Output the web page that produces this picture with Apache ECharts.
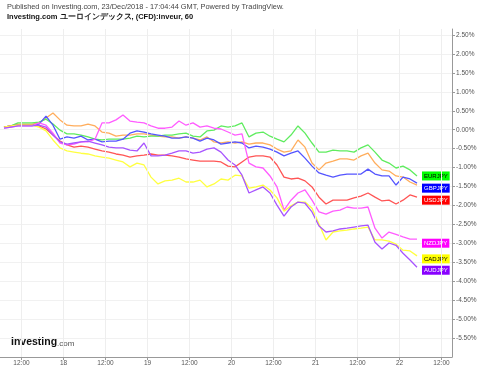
<!DOCTYPE html>
<html>
<head>
<meta charset="utf-8">
<script src="https://cdn.jsdelivr.net/npm/echarts@6/dist/echarts.min.js"></script>
<style>
html,body{margin:0;padding:0;background:#fff;}
#chart{width:480px;height:369px;}
</style>
</head>
<body>
<div id="chart"></div>
<script>
// Time: hours relative to 18 Dec 00:00, first sample and sampling step
const startHour = -17;
const stepHours = 2;

// X axis ticks (hours) and their labels
const xTickHours = [-12, 0, 12, 24, 36, 48, 60, 72, 84, 96, 108];
const xTickLabels = ['12:00', '18', '12:00', '19', '12:00', '20', '12:00', '21', '12:00', '22', '12:00'];

// Y axis tick values (%)
const yTickValues = [-5.5, -5, -4.5, -4, -3.5, -3, -2.5, -2, -1.5, -1, -0.5, 0, 0.5, 1, 1.5, 2, 2.5];

// Series values (% change)
const eurjpy = [0.07, 0.10, 0.18, 0.18, 0.18, 0.20, 0.28, 0.15, -0.01, -0.11,
  -0.11, -0.14, -0.19, -0.25, -0.27, -0.25, -0.25, -0.25, -0.22, -0.17,
  -0.19, -0.17, -0.17, -0.14, -0.14, -0.11, -0.09, -0.17, -0.19, -0.03,
  -0.01, 0.10, 0.07, 0.10, 0.18, -0.19, -0.09, -0.06, -0.17, -0.25,
  -0.32, -0.14, 0.10, -0.09, -0.35, -0.59, -0.59, -0.54, -0.56, -0.56,
  -0.59, -0.48, -0.40, -0.59, -0.80, -0.88, -1.01, -0.96, -1.06, -1.22];

const gbpjpy = [0.07, 0.10, 0.12, 0.12, 0.12, 0.15, 0.36, 0.12, -0.25, -0.19,
  -0.22, -0.17, -0.27, -0.25, -0.32, -0.30, -0.30, -0.25, -0.09, -0.03,
  -0.06, -0.11, -0.14, -0.17, -0.22, -0.22, -0.19, -0.22, -0.30, -0.22,
  -0.27, -0.38, -0.35, -0.32, -0.35, -0.48, -0.43, -0.46, -0.51, -0.59,
  -0.69, -0.62, -0.56, -0.75, -0.96, -1.14, -1.20, -1.25, -1.20, -1.17,
  -1.17, -1.17, -1.04, -1.17, -1.22, -1.22, -1.46, -1.25, -1.30, -1.41];

const chfjpy = [0.07, 0.10, 0.15, 0.15, 0.15, 0.18, 0.31, 0.44, 0.26, 0.12,
  0.10, 0.10, 0.15, 0.10, -0.06, -0.09, -0.17, -0.14, -0.14, -0.11,
  -0.11, -0.14, -0.17, -0.19, -0.19, -0.22, -0.19, -0.22, -0.27, -0.19,
  -0.32, -0.35, -0.32, -0.35, -0.32, -0.38, -0.35, -0.35, -0.40, -0.51,
  -0.59, -0.56, -0.27, -0.46, -0.88, -1.06, -0.88, -0.83, -0.77, -0.77,
  -0.80, -0.69, -0.62, -0.88, -1.06, -1.09, -1.22, -1.25, -1.38, -1.46];

const usdjpy = [0.07, 0.10, 0.12, 0.12, 0.12, 0.10, 0.02, -0.14, -0.30, -0.40,
  -0.46, -0.43, -0.46, -0.51, -0.56, -0.59, -0.64, -0.67, -0.72, -0.69,
  -0.67, -0.64, -0.67, -0.67, -0.69, -0.72, -0.77, -0.80, -0.83, -0.83,
  -0.83, -0.85, -0.96, -0.98, -0.85, -0.72, -0.69, -0.69, -0.72, -0.93,
  -1.25, -1.30, -1.28, -1.35, -1.51, -1.78, -1.96, -1.86, -1.86, -1.86,
  -1.80, -1.75, -1.67, -1.78, -1.88, -1.86, -1.96, -1.86, -1.72, -1.78];

const nzdjpy = [0.04, 0.07, 0.10, 0.10, 0.10, 0.18, 0.12, -0.09, -0.35, -0.40,
  -0.38, -0.32, -0.32, -0.25, 0.18, 0.18, 0.26, 0.39, 0.23, 0.20,
  0.18, 0.10, 0.04, 0.04, 0.07, 0.23, 0.12, 0.18, 0.07, 0.10,
  0.04, 0.02, -0.06, -0.14, -0.11, -0.88, -0.98, -1.01, -1.22, -1.51,
  -2.12, -1.86, -1.67, -1.59, -1.86, -2.17, -2.23, -2.15, -2.12, -2.04,
  -2.07, -2.07, -2.04, -2.60, -2.86, -2.70, -2.76, -2.83, -2.89, -2.89];

const cadjpy = [0.07, 0.10, 0.12, 0.12, 0.12, 0.07, -0.03, -0.27, -0.48, -0.56,
  -0.59, -0.62, -0.64, -0.69, -0.72, -0.75, -0.80, -0.85, -0.98, -0.88,
  -0.93, -1.25, -1.43, -1.35, -1.33, -1.28, -1.38, -1.38, -1.33, -1.51,
  -1.43, -1.30, -1.33, -1.20, -1.22, -1.54, -1.51, -1.46, -1.59, -1.80,
  -2.15, -2.01, -1.91, -1.91, -2.07, -2.49, -2.91, -2.70, -2.67, -2.65,
  -2.62, -2.60, -2.57, -2.91, -2.91, -2.94, -3.02, -3.18, -3.20, -3.33];

const audjpy = [0.04, 0.07, 0.10, 0.10, 0.10, 0.12, 0.07, -0.14, -0.32, -0.38,
  -0.35, -0.32, -0.30, -0.35, -0.40, -0.46, -0.48, -0.48, -0.54, -0.56,
  -0.35, -0.69, -0.69, -0.67, -0.62, -0.56, -0.56, -0.62, -0.59, -0.51,
  -0.48, -0.59, -0.80, -0.93, -1.20, -1.67, -1.59, -1.51, -1.67, -1.99,
  -2.28, -2.04, -1.91, -1.94, -2.17, -2.54, -2.70, -2.67, -2.62, -2.60,
  -2.57, -2.54, -2.52, -2.97, -3.15, -2.99, -3.05, -3.26, -3.44, -3.63];

const seriesDefs = [
  {name: 'CHFJPY', data: chfjpy, line: '#ffad5c', bg: null, fg: null, dy: 0},
  {name: 'EURJPY', data: eurjpy, line: '#5fec5f', bg: '#00ff00', fg: '#000', dy: 0},
  {name: 'GBPJPY', data: gbpjpy, line: '#5555ff', bg: '#0000ff', fg: '#fff', dy: 5},
  {name: 'USDJPY', data: usdjpy, line: '#ff5555', bg: '#ff0000', fg: '#fff', dy: 3},
  {name: 'NZDJPY', data: nzdjpy, line: '#ff5cff', bg: '#ff00ff', fg: '#fff', dy: 4},
  {name: 'CADJPY', data: cadjpy, line: '#ffff40', bg: '#ffff00', fg: '#000', dy: 3},
  {name: 'AUDJPY', data: audjpy, line: '#a855ff', bg: '#8800ff', fg: '#fff', dy: 3}
];

const FONT = '"Liberation Sans", Arial, sans-serif';
const chart = echarts.init(document.getElementById('chart'), null, {renderer: 'canvas'});

const series = [{
  type: 'line', data: [], silent: true,
  markLine: {
    silent: true, symbol: 'none', animation: false,
    label: {show: false},
    lineStyle: {color: '#eeeeee', type: 'solid', width: 1},
    data: xTickHours.map(h => ({xAxis: h}))
  }
}];

seriesDefs.forEach(s => {
  series.push({
    name: s.name,
    type: 'line',
    showSymbol: false,
    symbol: 'none',
    animation: false,
    lineStyle: {color: s.line, width: 1.3},
    itemStyle: {color: s.line},
    data: s.data.map((v, i) => [startHour + i * stepHours, v]),
    endLabel: s.bg ? {
      show: true,
      formatter: s.name,
      backgroundColor: s.bg,
      color: s.fg,
      fontFamily: FONT,
      fontSize: 6,
      padding: [2, 2, 1, 2],
      distance: 5,
      offset: [0, s.dy]
    } : {show: false}
  });
});

chart.setOption({
  backgroundColor: '#fff',
  animation: false,
  grid: {left: 0, right: 28, top: 29, bottom: 12},
  xAxis: {
    type: 'value',
    min: -18.14,
    max: 111,
    axisLine: {show: true, onZero: false, lineStyle: {color: '#999', width: 1}},
    axisTick: {show: true, customValues: xTickHours, length: 3, lineStyle: {color: '#999'}},
    axisLabel: {
      customValues: xTickHours,
      formatter: v => xTickLabels[xTickHours.indexOf(v)],
      fontFamily: FONT, fontSize: 6.5, color: '#555', margin: 3
    },
    splitLine: {show: false}
  },
  yAxis: {
    type: 'value',
    position: 'right',
    min: -6,
    max: 2.66,
    interval: 0.5,
    axisLine: {show: true, onZero: false, lineStyle: {color: '#999', width: 1}},
    axisTick: {show: true, customValues: yTickValues, length: 3, lineStyle: {color: '#999'}},
    axisLabel: {
      customValues: yTickValues,
      formatter: v => v.toFixed(2) + '%',
      fontFamily: FONT, fontSize: 6.5, color: '#555', margin: 4
    },
    splitLine: {show: true, lineStyle: {color: '#f1f1f1', width: 1}}
  },
  graphic: [
    {type: 'text', left: 7, top: 3, style: {text: 'Published on Investing.com, 23/Dec/2018 - 17:04:44 GMT, Powered by TradingView.', font: '7.4px ' + FONT, fill: '#444'}},
    {type: 'text', left: 7, top: 13, style: {text: 'Investing.com ユーロインデックス, (CFD):inveur, 60', font: 'bold 7.5px ' + FONT, fill: '#111'}},
    {type: 'text', left: 11, top: 337, style: {text: 'Investing', font: 'bold 10.5px ' + FONT, fill: '#111'}},
    {type: 'text', left: 57, top: 340, style: {text: '.com', font: '8px ' + FONT, fill: '#555'}}
  ],
  series: series
});
</script>
</body>
</html>
